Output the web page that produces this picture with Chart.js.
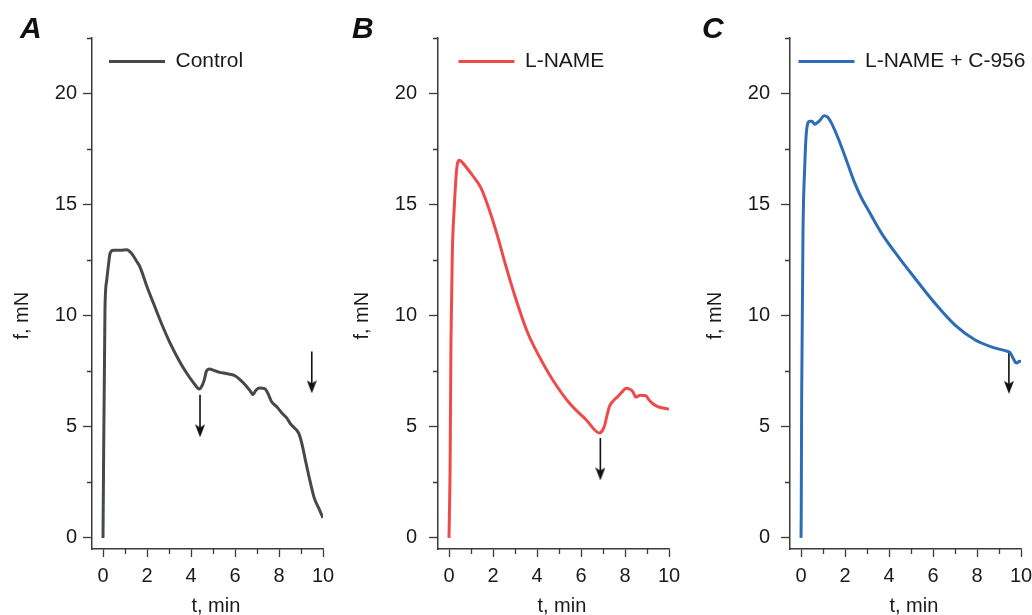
<!DOCTYPE html>
<html>
<head>
<meta charset="utf-8">
<script src="https://cdn.jsdelivr.net/npm/chart.js@4.4.1/dist/chart.umd.min.js"></script>
<style>
  html, body { margin: 0; padding: 0; background: #fff; }
  #wrap { position: relative; width: 1032px; height: 615px; overflow: hidden; }
  .panel { position: absolute; top: 0; width: 344px; height: 615px; }
</style>
</head>
<body>
<div id="wrap">
  <div class="panel" style="left:0"><canvas id="chartA"></canvas></div>
  <div class="panel" style="left:344px"><canvas id="chartB"></canvas></div>
  <div class="panel" style="left:688px"><canvas id="chartC"></canvas></div>
</div>
<script>
// --- ticks ---
const xTicks = [0, 2, 4, 6, 8, 10];
const xMinorTicks = [1, 3, 5, 7, 9];
const yTicks = [0, 5, 10, 15, 20];
const yMinorTicks = [2.5, 7.5, 12.5, 17.5, 22.5];

// --- A: Control ---
const timeA  = [0, 0.09, 0.17, 0.25, 0.32, 0.47, 0.8, 1.08, 1.3, 1.5, 1.68, 2.0, 2.29, 2.7, 3.05, 3.45, 3.8, 4.1, 4.38, 4.5, 4.6, 4.7, 4.85, 5.0, 5.3, 5.6, 6.0, 6.25, 6.5, 6.7, 6.82, 6.95, 7.1, 7.35, 7.5, 7.65, 7.9, 8.15, 8.35, 8.5, 8.6, 8.9, 9.05, 9.2, 9.4, 9.6, 9.8, 10.0];
const forceA = [0, 10.3, 11.6, 12.3, 12.8, 12.95, 12.95, 12.97, 12.8, 12.5, 12.2, 11.3, 10.57, 9.55, 8.77, 8.0, 7.42, 7.0, 6.7, 6.85, 7.1, 7.5, 7.6, 7.55, 7.45, 7.4, 7.3, 7.1, 6.85, 6.6, 6.45, 6.65, 6.75, 6.72, 6.5, 6.15, 5.9, 5.6, 5.4, 5.17, 5.05, 4.7, 4.2, 3.5, 2.6, 1.8, 1.35, 0.9];
const arrowTimeA = [4.41, 9.49];
const arrowTopA  = [6.44, 8.39];
const arrowHeadA = [4.84, 6.82];

// --- B: L-NAME ---
const timeB  = [0, 0.05, 0.09, 0.15, 0.24, 0.35, 0.47, 0.62, 0.85, 1.08, 1.45, 1.83, 2.21, 2.59, 3.05, 3.58, 4.1, 4.71, 5.47, 6.23, 6.85, 6.95, 7.06, 7.18, 7.29, 7.5, 7.67, 7.85, 8.05, 8.2, 8.35, 8.5, 8.7, 8.95, 9.1, 9.25, 9.49, 9.7, 10.0];
const forceB = [0, 3.2, 8.9, 12.8, 14.9, 16.6, 17.0, 16.88, 16.6, 16.3, 15.75, 14.77, 13.57, 12.22, 10.72, 9.22, 8.17, 7.12, 6.07, 5.32, 4.72, 4.8, 5.01, 5.5, 5.91, 6.2, 6.36, 6.55, 6.74, 6.7, 6.59, 6.34, 6.42, 6.4, 6.2, 6.05, 5.91, 5.85, 5.8];
const arrowTimeB = [6.88];
const arrowTopB  = [4.5];
const arrowHeadB = [2.9];

// --- C: L-NAME + C-956 ---
const timeC  = [0, 0.01, 0.03, 0.09, 0.17, 0.24, 0.39, 0.5, 0.62, 0.75, 0.85, 1.05, 1.2, 1.38, 1.6, 1.83, 2.1, 2.44, 2.75, 3.05, 3.65, 4.41, 5.17, 6.08, 6.99, 7.9, 8.8, 9.41, 9.5, 9.64, 9.75, 9.83, 9.92, 10.0];
const forceC = [0, 1.0, 6.3, 13.7, 16.7, 18.2, 18.75, 18.75, 18.62, 18.7, 18.78, 19.0, 18.95, 18.68, 18.2, 17.63, 16.9, 15.98, 15.3, 14.77, 13.73, 12.67, 11.7, 10.57, 9.59, 8.92, 8.55, 8.39, 8.35, 8.09, 7.9, 7.87, 7.95, 7.94];
const arrowTimeC = [9.45];
const arrowTopC  = [8.39];
const arrowHeadC = [6.8];

const axisColor = '#3a3a3a';
const textColor = '#1a1a1a';
Chart.defaults.font.family = '"Liberation Sans", Arial, sans-serif';
Chart.defaults.color = textColor;

// small arrowhead used as point style
function makeArrowHead() {
    const c = document.createElement('canvas');
    c.width = 10; c.height = 14;
    const g = c.getContext('2d');
    g.fillStyle = '#111';
    g.beginPath();
    g.moveTo(0, 1); g.lineTo(5, 4); g.lineTo(10, 1); g.lineTo(5, 14);
    g.closePath();
    g.fill();
    return c;
}
const arrowHead = makeArrowHead();

// minor ticks are not built in, draw them off the scales
const minorTicks = {
    id: 'minorTicks',
    afterDraw(chart) {
        const { ctx, scales: { x, y } } = chart;
        ctx.save();
        ctx.strokeStyle = axisColor;
        ctx.lineWidth = 1.3;
        ctx.beginPath();
        xMinorTicks.forEach(v => {
            const px = Math.round(x.getPixelForValue(v)) + 0.5;
            ctx.moveTo(px, x.top); ctx.lineTo(px, x.top + 5);
        });
        yMinorTicks.forEach(v => {
            const py = Math.round(y.getPixelForValue(v)) + 0.5;
            ctx.moveTo(y.right, py); ctx.lineTo(y.right - 5, py);
        });
        ctx.stroke();
        ctx.restore();
    }
};

const panelLetter = {
    id: 'panelLetter',
    afterDraw(chart, args, opts) {
        const ctx = chart.ctx;
        ctx.save();
        ctx.font = 'italic bold 30px "Liberation Sans", Arial, sans-serif';
        ctx.fillStyle = '#111';
        ctx.textBaseline = 'alphabetic';
        ctx.fillText(opts.text, opts.x, 38);
        ctx.restore();
    }
};

// legend sits inside the plot; place its box and let long text run past the plot edge
const legendNudge = {
    id: 'legendNudge',
    afterLayout(chart, args, opts) {
        const area = chart.chartArea;
        chart.legend.left = area.left + opts.dx;
        chart.legend.top = area.top;
        chart.legend.right = chart.width;
        chart.legend.bottom = area.bottom;
    }
};

function buildPanel(id, p) {
    const datasets = [{
        label: p.label,
        data: p.time.map((t, i) => ({ x: t, y: p.force[i] })),
        borderColor: p.color,
        backgroundColor: p.color,
        borderWidth: 3,
        pointRadius: 0,
        cubicInterpolationMode: 'monotone'
    }];
    p.arrowTime.forEach((t, i) => {
        datasets.push({
            label: 'arrow',
            data: [{ x: t, y: p.arrowTop[i] }, { x: t, y: p.arrowHead[i] }],
            borderColor: '#111',
            borderWidth: 1.6,
            pointRadius: [0, 5],
            pointStyle: arrowHead
        });
    });

    return new Chart(document.getElementById(id), {
        type: 'line',
        data: { datasets },
        options: {
            responsive: true,
            maintainAspectRatio: false,
            animation: false,
            events: [],
            layout: { padding: { top: 38, right: p.rightPad, left: 0, bottom: 0 } },
            scales: {
                x: {
                    type: 'linear', min: -0.5, max: 10,
                    afterBuildTicks: s => { s.ticks = xTicks.map(v => ({ value: v })); },
                    afterFit: s => { s.height = 66; s.paddingLeft = 0; s.paddingRight = 0; },
                    grid: { drawOnChartArea: false, tickLength: 8, tickColor: axisColor, tickWidth: 1.3 },
                    border: { color: axisColor, width: 1.5 },
                    ticks: { padding: 7, autoSkip: false, maxRotation: 0, font: { size: 20 }, color: textColor },
                    title: { display: true, text: '   t, min', font: { size: 20, lineHeight: 1 }, padding: { top: 0, bottom: -1 }, color: textColor }
                },
                y: {
                    type: 'linear', min: -0.5, max: 22.5,
                    afterBuildTicks: s => { s.ticks = yTicks.map(v => ({ value: v })); },
                    afterFit: s => { s.width = p.axisLeft; s.paddingTop = 0; s.paddingBottom = 0; },
                    grid: { drawOnChartArea: false, tickLength: 9, tickColor: axisColor, tickWidth: 1.3 },
                    border: { color: axisColor, width: 1.5 },
                    ticks: { padding: p.labelPad, autoSkip: false, font: { size: 20 }, color: textColor },
                    title: { display: true, text: 'f, mN        ', font: { size: 20, lineHeight: 1.2 }, padding: { top: p.titlePad, bottom: 0 }, color: textColor }
                }
            },
            plugins: {
                legend: {
                    position: 'chartArea',
                    align: 'start',
                    labels: {
                        boxWidth: 56, boxHeight: 3, padding: 13,
                        font: { size: 21 }, color: textColor,
                        generateLabels: chart => Chart.defaults.plugins.legend.labels.generateLabels(chart)
                            .filter(l => l.datasetIndex === 0)
                            .map(l => Object.assign(l, { lineWidth: 0 }))
                    }
                },
                tooltip: { enabled: false },
                panelLetter: { text: p.letter, x: p.letterX },
                legendNudge: { dx: p.legendDx }
            }
        },
        plugins: [minorTicks, panelLetter, legendNudge]
    });
}

buildPanel('chartA', {
    label: 'Control', color: '#46494c', letter: 'A', letterX: 20,
    time: timeA, force: forceA, arrowTime: arrowTimeA, arrowTop: arrowTopA, arrowHead: arrowHeadA,
    axisLeft: 92, rightPad: 21, labelPad: 6, titlePad: 10.6, legendDx: 4
});
buildPanel('chartB', {
    label: 'L-NAME', color: '#ef4a4a', letter: 'B', letterX: 8,
    time: timeB, force: forceB, arrowTime: arrowTimeB, arrowTop: arrowTopB, arrowHead: arrowHeadB,
    axisLeft: 94, rightPad: 19, labelPad: 12, titlePad: 6.6, legendDx: 7.5
});
buildPanel('chartC', {
    label: 'L-NAME + C-956', color: '#2d6db8', letter: 'C', letterX: 14,
    time: timeC, force: forceC, arrowTime: arrowTimeC, arrowTop: arrowTopC, arrowHead: arrowHeadC,
    axisLeft: 102, rightPad: 11, labelPad: 11, titlePad: 15.6, legendDx: -4.5
});
</script>
</body>
</html>
